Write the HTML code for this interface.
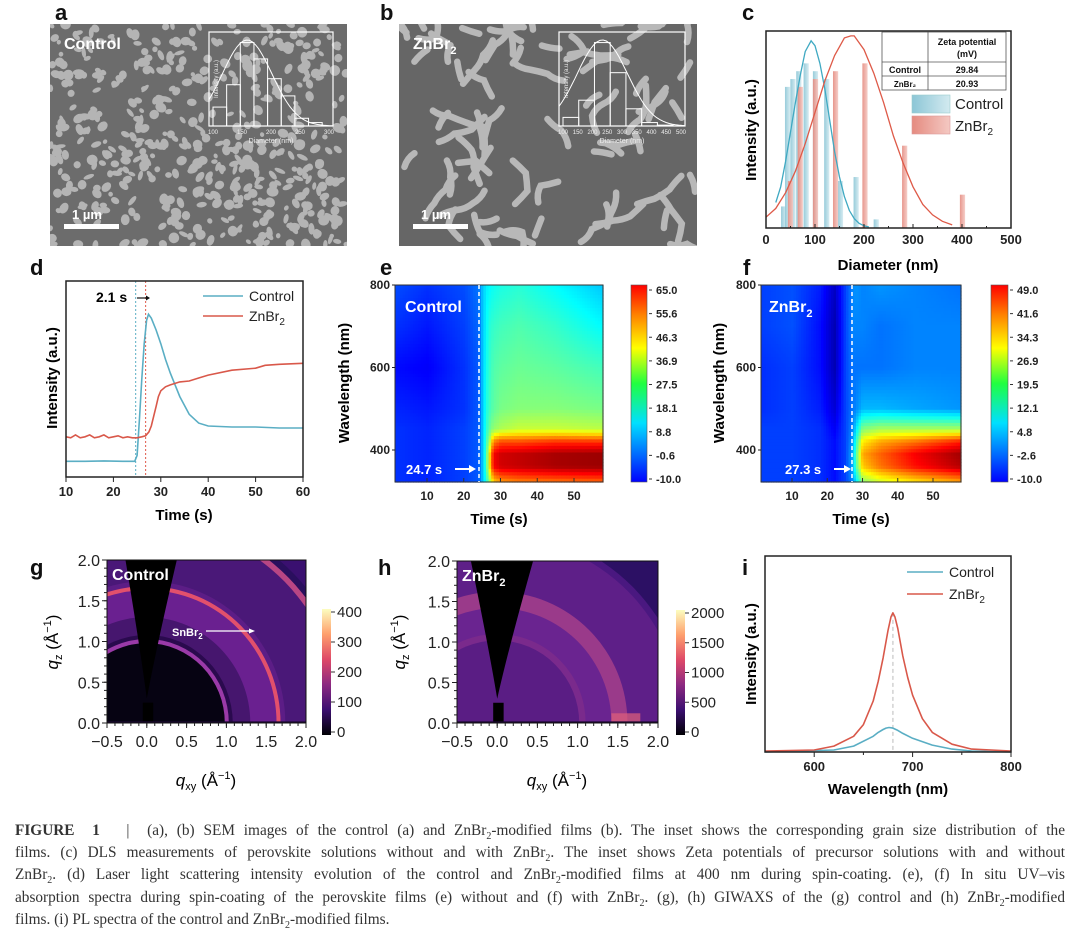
<!DOCTYPE html>
<html><head><meta charset="utf-8">
<style>
html,body{margin:0;padding:0;background:#fff;}
body{width:1080px;height:951px;position:relative;overflow:hidden;font-family:"Liberation Sans",sans-serif;}
#fig{position:absolute;left:0;top:0;}
.cap{position:absolute;left:15px;width:1050px;font-family:"Liberation Serif",serif;font-size:15.3px;color:#333;white-space:nowrap;text-align:justify;text-align-last:justify;line-height:18px;}
.cap.last{text-align-last:left;}
.cap sub{font-size:10px;line-height:0;}
</style></head>
<body>
<svg id="fig" width="1080" height="951" viewBox="0 0 1080 951" xmlns="http://www.w3.org/2000/svg" font-family="Liberation Sans, sans-serif">
<defs>
 <clipPath id="clipA"><rect x="50" y="24" width="297" height="222"/></clipPath>
 <clipPath id="clipB"><rect x="399" y="24" width="298" height="222"/></clipPath>
 <clipPath id="clipG"><rect x="107" y="560" width="199" height="163"/></clipPath>
 <clipPath id="clipH"><rect x="457" y="561" width="201" height="162"/></clipPath>
 <linearGradient id="gCtrl" x1="0" x2="1"><stop offset="0" stop-color="#8cc6d6"/><stop offset="1" stop-color="#d3eaf0"/></linearGradient>
 <linearGradient id="gZn" x1="0" x2="1"><stop offset="0" stop-color="#e58b80"/><stop offset="1" stop-color="#f4c9c3"/></linearGradient>
 <linearGradient id="jetBar" x1="0" y1="1" x2="0" y2="0">
  <stop offset="0" stop-color="#0000ff"/><stop offset="0.125" stop-color="#0060ff"/><stop offset="0.3" stop-color="#00e0ff"/>
  <stop offset="0.5" stop-color="#20ff40"/><stop offset="0.68" stop-color="#ffff00"/><stop offset="0.85" stop-color="#ff8000"/><stop offset="1" stop-color="#ff0000"/>
 </linearGradient>
 <linearGradient id="magma" x1="0" y1="1" x2="0" y2="0">
  <stop offset="0" stop-color="#000004"/><stop offset="0.2" stop-color="#3b0f70"/><stop offset="0.4" stop-color="#8c2981"/>
  <stop offset="0.6" stop-color="#de4968"/><stop offset="0.8" stop-color="#fe9f6d"/><stop offset="1" stop-color="#fcfdbf"/>
 </linearGradient>
 <radialGradient id="beamG" cx="0.5" cy="1" r="0.6"><stop offset="0" stop-color="#f6a060"/><stop offset="0.5" stop-color="#b0306a" stop-opacity="0.6"/><stop offset="1" stop-color="#000" stop-opacity="0"/></radialGradient>
</defs>

<g font-weight="bold" font-size="22" fill="#111">
 <text x="55" y="20">a</text><text x="380" y="20">b</text><text x="742" y="20">c</text>
 <text x="30" y="275">d</text><text x="380" y="275">e</text><text x="743" y="275">f</text>
 <text x="30" y="575">g</text><text x="378" y="575">h</text><text x="742" y="575">i</text>
</g>

<g>
 <rect x="50" y="24" width="297" height="222" fill="#6c6c6c"/>
 <g id="semA" clip-path="url(#clipA)"></g>
 <text x="64" y="49" fill="#fff" font-weight="bold" font-size="16">Control</text>
 <rect x="64" y="224" width="55" height="5" fill="#fff"/>
 <text x="72" y="219" fill="#fff" font-weight="bold" font-size="13">1 µm</text>
 <g id="insetA"></g>
</g>
<g>
 <rect x="399" y="24" width="298" height="222" fill="#666"/>
 <g id="semB" clip-path="url(#clipB)"></g>
 <text x="413" y="49" fill="#fff" font-weight="bold" font-size="16">ZnBr<tspan font-size="11" dy="5">2</tspan></text>
 <rect x="413" y="224" width="55" height="5" fill="#fff"/>
 <text x="421" y="219" fill="#fff" font-weight="bold" font-size="13">1 µm</text>
 <g id="insetB"></g>
</g>

<g id="panelC">
 <g id="cMarks"></g>
 <rect x="766" y="31" width="245" height="197" fill="none" stroke="#222" stroke-width="1.5"/>
 <g id="cAxis" font-weight="bold" font-size="13" fill="#222"></g>
 <text x="888" y="270" text-anchor="middle" font-weight="bold" font-size="15">Diameter (nm)</text>
 <text transform="translate(756,130) rotate(-90)" text-anchor="middle" font-weight="bold" font-size="15">Intensity (a.u.)</text>
 <g font-weight="bold" font-size="9" fill="#111">
  <rect x="882" y="32" width="124" height="58" fill="#fff" stroke="#555" stroke-width="0.8"/>
  <line x1="928" y1="32" x2="928" y2="90" stroke="#555" stroke-width="0.8"/>
  <line x1="882" y1="62" x2="1006" y2="62" stroke="#555" stroke-width="0.8"/>
  <line x1="882" y1="76" x2="1006" y2="76" stroke="#555" stroke-width="0.8"/>
  <text x="967" y="45" text-anchor="middle">Zeta potential</text>
  <text x="967" y="57" text-anchor="middle">(mV)</text>
  <text x="905" y="73" text-anchor="middle">Control</text><text x="967" y="73" text-anchor="middle">29.84</text>
  <text x="905" y="87" text-anchor="middle" font-size="8">ZnBr₂</text><text x="967" y="87" text-anchor="middle">20.93</text>
 </g>
 <g font-size="15" fill="#222">
  <rect x="912" y="95" width="38" height="18" fill="url(#gCtrl)" stroke="#9cc" stroke-width="0.6"/>
  <text x="955" y="109">Control</text>
  <rect x="912" y="116" width="38" height="18" fill="url(#gZn)" stroke="#d99" stroke-width="0.6"/>
  <text x="955" y="131">ZnBr<tspan font-size="10" dy="4">2</tspan></text>
 </g>
</g>

<g id="panelD">
 <g id="dMarks"></g>
 <rect x="66" y="281" width="237" height="196" fill="none" stroke="#222" stroke-width="1.5"/>
 <g id="dAxis" font-weight="bold" font-size="13" fill="#222"></g>
 <text x="184" y="520" text-anchor="middle" font-weight="bold" font-size="15">Time (s)</text>
 <text transform="translate(57,378) rotate(-90)" text-anchor="middle" font-weight="bold" font-size="15">Intensity (a.u.)</text>
 <text x="96" y="302" font-weight="bold" font-size="14">2.1 s</text>
 <line x1="137" y1="298" x2="146" y2="298" stroke="#111" stroke-width="1.2"/><path d="M146,295.5 L150,298 L146,300.5Z" fill="#111"/>
 <g font-size="14" fill="#222">
  <line x1="203" y1="296" x2="243" y2="296" stroke="#5aaec4" stroke-width="1.6"/><text x="249" y="301">Control</text>
  <line x1="203" y1="316" x2="243" y2="316" stroke="#d9584a" stroke-width="1.6"/><text x="249" y="321">ZnBr<tspan font-size="10" dy="4">2</tspan></text>
 </g>
</g>

<g id="panelE">
 <g id="eCells"></g>
 <rect x="395" y="285" width="208" height="197" fill="none" stroke="#333" stroke-width="1"/>
 <line x1="479" y1="285" x2="479" y2="482" stroke="#fff" stroke-width="1.5" stroke-dasharray="4,3"/>
 <text x="405" y="312" fill="#fff" font-weight="bold" font-size="16">Control</text>
 <text x="406" y="474" fill="#fff" font-weight="bold" font-size="13">24.7 s</text>
 <line x1="455" y1="469" x2="470" y2="469" stroke="#fff" stroke-width="2"/><path d="M469,465 L476,469 L469,473Z" fill="#fff"/>
 <g id="eAxis" font-weight="bold" font-size="12" fill="#222"></g>
 <text x="499" y="524" text-anchor="middle" font-weight="bold" font-size="15">Time (s)</text>
 <text transform="translate(349,383) rotate(-90)" text-anchor="middle" font-weight="bold" font-size="15">Wavelength (nm)</text>
 <rect x="631" y="285" width="16" height="197" fill="url(#jetBar)" stroke="#555" stroke-width="0.6"/>
 <g id="eCb" font-weight="bold" font-size="11" fill="#222"></g>
</g>

<g id="panelF">
 <g id="fCells"></g>
 <rect x="761" y="285" width="200" height="197" fill="none" stroke="#333" stroke-width="1"/>
 <line x1="852" y1="285" x2="852" y2="482" stroke="#fff" stroke-width="1.5" stroke-dasharray="4,3"/>
 <text x="769" y="312" fill="#fff" font-weight="bold" font-size="16">ZnBr<tspan font-size="11" dy="5">2</tspan></text>
 <text x="785" y="474" fill="#fff" font-weight="bold" font-size="13">27.3 s</text>
 <line x1="834" y1="469" x2="845" y2="469" stroke="#fff" stroke-width="2"/><path d="M844,465 L851,469 L844,473Z" fill="#fff"/>
 <g id="fAxis" font-weight="bold" font-size="12" fill="#222"></g>
 <text x="861" y="524" text-anchor="middle" font-weight="bold" font-size="15">Time (s)</text>
 <text transform="translate(724,383) rotate(-90)" text-anchor="middle" font-weight="bold" font-size="15">Wavelength (nm)</text>
 <rect x="991" y="285" width="17" height="197" fill="url(#jetBar)" stroke="#555" stroke-width="0.6"/>
 <g id="fCb" font-weight="bold" font-size="11" fill="#222"></g>
</g>

<g id="panelG">
 <g id="gImg" clip-path="url(#clipG)"></g>
 <rect x="107" y="560" width="199" height="163" fill="none" stroke="#111" stroke-width="1"/>
 <text x="112" y="580" fill="#fff" font-weight="bold" font-size="16">Control</text>
 <text x="172" y="636" fill="#fff" font-weight="bold" font-size="11">SnBr<tspan font-size="8" dy="3">2</tspan></text>
 <line x1="206" y1="631" x2="250" y2="631" stroke="#fff" stroke-width="1.2"/><path d="M249,628.5 L255,631 L249,633.5Z" fill="#fff"/>
 <g id="gAxis" font-size="16" fill="#222"></g>
 <text x="206" y="786" text-anchor="middle" font-size="17"><tspan font-style="italic">q</tspan><tspan font-size="11" dy="4">xy</tspan><tspan dy="-4"> (Å</tspan><tspan font-size="11" dy="-7">−1</tspan><tspan dy="7">)</tspan></text>
 <text transform="translate(58,642) rotate(-90)" text-anchor="middle" font-size="17"><tspan font-style="italic">q</tspan><tspan font-size="11" dy="4">z</tspan><tspan dy="-4"> (Å</tspan><tspan font-size="11" dy="-7">−1</tspan><tspan dy="7">)</tspan></text>
 <rect x="322" y="609" width="9" height="126" fill="url(#magma)"/>
 <g id="gCb" font-size="15" fill="#222"></g>
</g>

<g id="panelH">
 <g id="hImg" clip-path="url(#clipH)"></g>
 <rect x="457" y="561" width="201" height="162" fill="none" stroke="#111" stroke-width="1"/>
 <text x="462" y="581" fill="#fff" font-weight="bold" font-size="16">ZnBr<tspan font-size="11" dy="5">2</tspan></text>
 <g id="hAxis" font-size="16" fill="#222"></g>
 <text x="557" y="786" text-anchor="middle" font-size="17"><tspan font-style="italic">q</tspan><tspan font-size="11" dy="4">xy</tspan><tspan dy="-4"> (Å</tspan><tspan font-size="11" dy="-7">−1</tspan><tspan dy="7">)</tspan></text>
 <text transform="translate(405,642) rotate(-90)" text-anchor="middle" font-size="17"><tspan font-style="italic">q</tspan><tspan font-size="11" dy="4">z</tspan><tspan dy="-4"> (Å</tspan><tspan font-size="11" dy="-7">−1</tspan><tspan dy="7">)</tspan></text>
 <rect x="676" y="610" width="9" height="125" fill="url(#magma)"/>
 <g id="hCb" font-size="15" fill="#222"></g>
</g>

<g id="panelI">
 <g id="iMarks"></g>
 <rect x="765" y="556" width="246" height="196" fill="none" stroke="#222" stroke-width="1.5"/>
 <g id="iAxis" font-weight="bold" font-size="13" fill="#222"></g>
 <text x="888" y="794" text-anchor="middle" font-weight="bold" font-size="15">Wavelength (nm)</text>
 <text transform="translate(756,654) rotate(-90)" text-anchor="middle" font-weight="bold" font-size="15">Intensity (a.u.)</text>
 <g font-size="14" fill="#222">
  <line x1="907" y1="572" x2="943" y2="572" stroke="#5aaec4" stroke-width="1.6"/><text x="949" y="577">Control</text>
  <line x1="907" y1="594" x2="943" y2="594" stroke="#d9584a" stroke-width="1.6"/><text x="949" y="599">ZnBr<tspan font-size="10" dy="4">2</tspan></text>
 </g>
</g>
</svg>

<div class="cap" style="top:822px"><b style="font-family:'Liberation Serif',serif">FIGURE&nbsp;&nbsp;1</b>&nbsp;&nbsp;&nbsp;|&nbsp;&nbsp;(a), (b) SEM images of the control (a) and ZnBr<sub>2</sub>-modified films (b). The inset shows the corresponding grain size distribution of the</div>
<div class="cap" style="top:844px">films. (c) DLS measurements of perovskite solutions without and with ZnBr<sub>2</sub>. The inset shows Zeta potentials of precursor solutions with and without</div>
<div class="cap" style="top:866px">ZnBr<sub>2</sub>. (d) Laser light scattering intensity evolution of the control and ZnBr<sub>2</sub>-modified films at 400 nm during spin-coating. (e), (f) In situ UV–vis</div>
<div class="cap" style="top:889px">absorption spectra during spin-coating of the perovskite films (e) without and (f) with ZnBr<sub>2</sub>. (g), (h) GIWAXS of the (g) control and (h) ZnBr<sub>2</sub>-modified</div>
<div class="cap last" style="top:911px">films. (i) PL spectra of the control and ZnBr<sub>2</sub>-modified films.</div>

<script>
// ---------- data ----------
const cCtrlX=[36,44,55,67,82,101,124,152,184,225];
const cCtrlH=[0.11,0.72,0.76,0.80,0.84,0.80,0.76,0.24,0.26,0.044];
const cZnX=[50,70,101,142,202,283,401];
const cZnH=[0.24,0.72,0.76,0.80,0.84,0.42,0.17];
const cFitCtrlX=[20,30,40,50,60,70,80,92,100,110,120,130,140,150,160,170,180,190,200,210];
const cFitCtrlY=[0.13,0.21,0.34,0.49,0.64,0.78,0.90,0.955,0.93,0.84,0.71,0.55,0.39,0.26,0.16,0.09,0.048,0.024,0.011,0.005];
const cFitZnX=[0,20,40,60,80,100,120,140,160,173,180,200,220,240,260,280,300,320,340,360,380];
const cFitZnY=[0.055,0.10,0.18,0.29,0.43,0.59,0.75,0.88,0.97,0.98,0.98,0.91,0.79,0.64,0.47,0.33,0.21,0.12,0.067,0.034,0.016];
const cXTicks=[0,100,200,300,400,500];

const dCtrlT=[10,14,18,22,24.5,25,25.5,26,26.5,27,27.4,28,29,30,31,32,34,36,38,40,45,50,55,60];
const dCtrlV=[0.08,0.08,0.082,0.08,0.08,0.11,0.30,0.50,0.68,0.80,0.83,0.81,0.75,0.68,0.60,0.53,0.41,0.32,0.275,0.26,0.255,0.255,0.25,0.25];
const dZnT=[10,11,12,13,14,15,16,17,18,19,20,21,22,23,24,25,26,26.8,27.5,28,28.5,29,29.5,30,31,32,34,36,38,40,45,50,52,55,60];
const dZnV=[0.205,0.20,0.215,0.20,0.205,0.215,0.20,0.205,0.215,0.20,0.205,0.21,0.20,0.205,0.20,0.20,0.205,0.21,0.23,0.26,0.31,0.36,0.41,0.44,0.46,0.47,0.485,0.49,0.505,0.52,0.545,0.555,0.57,0.575,0.58];
const dXTicks=[10,20,30,40,50,60];

const eTimes=[1,10,20,24,25,26,27,28,30,35,45,58];
const eWaves=[800,700,600,500,450,420,390,360,322];
const eVals=[
 [5,3,5,8,14,17,18,19,20,21,18,14],
 [3,1,4,7,14,18,21,22,23,24,22,18],
 [0,-1,3,6,14,19,22,24,25,26,25,23],
 [2,1,3,6,14,20,23,25,27,28,28,27],
 [3,2,4,6,14,21,26,29,31,33,33,32],
 [3,2,4,6,14,22,32,46,50,50,52,52],
 [3,2,4,6,14,23,40,56,59,60,62,63],
 [3,2,4,6,14,23,40,56,59,60,62,63],
 [3,2,4,6,14,20,30,40,44,46,47,48]];
const eCbTicks=["65.0","55.6","46.3","36.9","27.5","18.1","8.8","-0.6","-10.0"];

const fTimes=[1,10,18,22,25,27,28,30,35,45,58];
const fWaves=[800,700,600,500,450,420,390,360,322];
const fVals=[
 [1,2,-1,-6,1,5,6,5,6,5,4],
 [1,2,-2,-7,1,5,5,5,4,5,5],
 [0,1,-2,-7,1,4,4,4,4,5,5],
 [0,1,-1,-5,1,4,5,8,8,7,6],
 [1,1,0,-3,1,5,10,20,22,22,22],
 [1,1,0,-2,1,6,14,28,32,35,40],
 [1,1,0,-2,1,7,16,32,36,42,47],
 [1,1,0,-2,1,7,16,30,35,41,46],
 [1,1,0,-2,1,5,10,20,24,28,32]];
const fCbTicks=["49.0","41.6","34.3","26.9","19.5","12.1","4.8","-2.6","-10.0"];

const qTicks=["−0.5","0.0","0.5","1.0","1.5","2.0"];
const qTickVals=[-0.5,0,0.5,1,1.5,2];
const qzTickVals=[0,0.5,1,1.5,2];
const gCbTicks=["400","300","200","100","0"];
const hCbTicks=["2000","1500","1000","500","0"];
const gRingR=[2.6,2.52,2.45,1.74,1.68,1.63,1.30,1.08,1.03,0.98];
const gRingC=["#2a0f5e","#b84684","#4a1878","#5c1d86","#e2506c","#6a2090","#46166e","#2a0a4e","#9a3aa8","#060312"];
const hRingR=[2.7,2.38,2.3,1.62,1.42,1.1,1.02];
const hRingC=["#2c1064","#4a1880","#5e1f88","#9a3a8a","#6a2490","#7a2a8c","#5a1d84"];

const iWl=[550,600,620,640,650,660,665,670,675,678,680,682,685,690,695,700,710,720,740,760,800];
const iZn=[0.005,0.01,0.03,0.08,0.14,0.26,0.36,0.48,0.62,0.69,0.71,0.69,0.63,0.49,0.38,0.29,0.17,0.10,0.04,0.015,0.005];
const iCtrlWl=[550,620,640,660,665,670,673,676,680,685,690,700,720,740,760,800];
const iCtrl=[0.0,0.01,0.03,0.08,0.10,0.115,0.122,0.125,0.122,0.11,0.095,0.07,0.035,0.015,0.005,0.0];
const iXTicks=[600,700,800];

const insetABins=[100,125,150,175,200,225,250,275];
const insetAH=[0.22,0.48,0.97,0.78,0.55,0.35,0.09,0.04];
const insetBBins=[100,150,200,250,300,350,400];
const insetBH=[0.1,0.3,0.97,0.62,0.2,0.04,0.01];

// ---------- helpers ----------
const NS='http://www.w3.org/2000/svg';
function mk(tag,attrs,parent){const e=document.createElementNS(NS,tag);for(const k in attrs)e.setAttribute(k,attrs[k]);parent.appendChild(e);return e;}
function lin(d0,d1,r0,r1){return v=>r0+(v-d0)/(d1-d0)*(r1-r0);}
const $=id=>document.getElementById(id);
function jet(t){t=Math.max(0,Math.min(1,t));const c=x=>Math.round(255*Math.max(0,Math.min(1,x)));
 return `rgb(${c(1.5-Math.abs(4*t-3))},${c(1.5-Math.abs(4*t-2))},${c(1.5-Math.abs(4*t-1))})`;}
function pathFrom(xs,ys,sx,sy){return xs.map((x,i)=>(i?'L':'M')+sx(x).toFixed(1)+','+sy(ys[i]).toFixed(1)).join(' ');}

// ---------- SEM textures (decorative) ----------
let seed=7;function rnd(){seed=(seed*16807)%2147483647;return seed/2147483647;}
(function(){
 const g=$('semA');
 for(let i=0;i<520;i++){const x=50+rnd()*297,y=24+rnd()*222;
  const el=mk('ellipse',{cx:x,cy:y,rx:2+rnd()*4,ry:2+rnd()*3.5,fill:'#b4b4b4',transform:`rotate(${rnd()*180},${x},${y})`},g);
  
  }
 const gb=$('semB');
 for(let i=0;i<72;i++){let x=399+rnd()*298,y=24+rnd()*222,a=rnd()*6.28;let d='M'+x+','+y;
  const n=1+Math.floor(rnd()*3);
  for(let k=0;k<n;k++){a+=(rnd()-0.5)*2;const cx=x+Math.cos(a)*9,cy=y+Math.sin(a)*9;a+=(rnd()-0.5)*1.5;x=cx+Math.cos(a)*9;y=cy+Math.sin(a)*9;d+=` Q${cx},${cy} ${x},${y}`;}
  const p=mk('path',{d:d,fill:'none',stroke:'#b8b8b8','stroke-width':6.5,'stroke-linecap':'round'},gb);
  
  }
})();
function inset(gid,x0,y0,w,h,bins,hs,step,labels){
 const g=$(gid);
 mk('rect',{x:x0,y:y0,width:w,height:h,fill:'none',stroke:'#fff','stroke-width':1.2},g);
 const n=bins.length, bw=(w-8)/(n+0.5);
 bins.forEach((b,i)=>{const r=mk('rect',{x:x0+4+i*bw,y:y0+h-hs[i]*(h-8),width:bw,height:hs[i]*(h-8),fill:'none',stroke:'#fff','stroke-width':1},g);
  
  });
 const pk=hs.indexOf(Math.max(...hs));let d='';
 for(let k=0;k<=40;k++){const xx=x0+k*w/40;const c=x0+4+(pk+0.5)*bw;const s=w*0.2;const yy=y0+h-(h-8)*Math.exp(-((xx-c)**2)/(2*s*s));d+=(k?'L':'M')+xx.toFixed(1)+','+yy.toFixed(1);}
 mk('path',{d:d,fill:'none',stroke:'#fff','stroke-width':1},g);
 labels.forEach((l,i)=>{const t=mk('text',{x:x0+4+i*(w-8)/(labels.length-1),y:y0+h+8,'font-size':6,fill:'#eee','text-anchor':'middle'},g);t.textContent=l;});
 const t=mk('text',{x:x0+w/2,y:y0+h+17,'font-size':7,fill:'#eee','text-anchor':'middle'},g);t.textContent='Diameter (nm)';
 const t2=mk('text',{transform:`translate(${x0+9},${y0+h/2}) rotate(-90)`,'font-size':6,fill:'#eee','text-anchor':'middle'},g);t2.textContent='Intensity (a.u.)';
}
inset('insetA',209,32,124,94,insetABins,insetAH,25,['100','150','200','250','300']);
inset('insetB',559,32,126,94,insetBBins,insetBH,50,['100','150','200','250','300','350','400','450','500']);

// ---------- panel c ----------
(function(){
 const sx=lin(0,500,766,1011), sy=lin(0,1,228,32), g=$('cMarks');
 cCtrlX.forEach((v,i)=>{const r=mk('rect',{x:sx(v)-2.6,y:sy(cCtrlH[i]),width:5.2,height:228-sy(cCtrlH[i]),fill:'url(#gCtrl)',opacity:0.9},g);
  
  });
 cZnX.forEach((v,i)=>{const r=mk('rect',{x:sx(v)-2.6,y:sy(cZnH[i]),width:5.2,height:228-sy(cZnH[i]),fill:'url(#gZn)',opacity:0.9},g);
  
  });
 const p1=mk('path',{d:pathFrom(cFitCtrlX,cFitCtrlY,sx,sy),fill:'none',stroke:'#3fa9c2','stroke-width':1.3},g);
 
 
 const p2=mk('path',{d:pathFrom(cFitZnX,cFitZnY,sx,sy),fill:'none',stroke:'#de5a48','stroke-width':1.3},g);
 
 
 const a=$('cAxis');
 cXTicks.forEach(v=>{mk('line',{x1:sx(v),x2:sx(v),y1:228,y2:224,stroke:'#222'},a);
  const t=mk('text',{x:sx(v),y:244,'text-anchor':'middle'},a);t.textContent=v;
  
  
  if(v<500)mk('line',{x1:sx(v+50),x2:sx(v+50),y1:228,y2:226,stroke:'#222'},a);});
})();

// ---------- panel d ----------
(function(){
 const sx=lin(10,60,66,303), sy=lin(0,1,477,281), g=$('dMarks');
 mk('line',{x1:sx(24.7),x2:sx(24.7),y1:281,y2:477,stroke:'#5aaec4','stroke-width':1,'stroke-dasharray':'2,2'},g);
 mk('line',{x1:sx(26.8),x2:sx(26.8),y1:281,y2:477,stroke:'#e0584a','stroke-width':1,'stroke-dasharray':'2,2'},g);
 const p1=mk('path',{d:pathFrom(dCtrlT,dCtrlV,sx,sy),fill:'none',stroke:'#5aaec4','stroke-width':1.6},g);
 
 
 const p2=mk('path',{d:pathFrom(dZnT,dZnV,sx,sy),fill:'none',stroke:'#d9584a','stroke-width':1.6},g);
 
 
 const a=$('dAxis');
 dXTicks.forEach(v=>{mk('line',{x1:sx(v),x2:sx(v),y1:477,y2:482,stroke:'#222'},a);
  const t=mk('text',{x:sx(v),y:496,'text-anchor':'middle'},a);t.textContent=v;
  
  });
})();

// ---------- heatmaps ----------
function heat(gid,times,waves,vals,x0,x1,vmin,vmax){
 const g=$(gid);
 const wl=[...waves].reverse(), vv=[...vals].reverse();
 function interp(t,w){
  let i=0;while(i<times.length-2&&t>times[i+1])i++;
  let j=0;while(j<wl.length-2&&w>wl[j+1])j++;
  const ft=Math.max(0,Math.min(1,(t-times[i])/(times[i+1]-times[i])));
  const fw=Math.max(0,Math.min(1,(w-wl[j])/(wl[j+1]-wl[j])));
  const a=vv[j][i]*(1-ft)+vv[j][i+1]*ft, b=vv[j+1][i]*(1-ft)+vv[j+1][i+1]*ft;
  return a*(1-fw)+b*fw;}
 const nx=80, ny=60, cw=(x1-x0)/nx, ch=(482-285)/ny;
 for(let a=0;a<nx;a++)for(let b=0;b<ny;b++){
  const px=x0+a*cw, py=285+b*ch;
  const t=times[0]+(px+cw/2-x0)/(x1-x0)*(times[times.length-1]-times[0]);
  const w=800-(py+ch/2-285)/165*400;
  const v=interp(t,w);
  const r=mk('rect',{x:px.toFixed(2),y:py.toFixed(2),width:(cw+0.6).toFixed(2),height:(ch+0.6).toFixed(2),fill:jet((v-vmin)/(vmax-vmin))},g);
  
  }
}
heat('eCells',eTimes,eWaves,eVals,395,603,-10,65);
heat('fCells',fTimes,fWaves,fVals,761,961,-10,49);

function heatAxes(aid,tx){
 const a=$(aid); const sy=lin(800,400,285,450);
 [400,600,800].forEach(v=>{const t=mk('text',{x:tx.left-5,y:sy(v)+4,'text-anchor':'end'},a);t.textContent=v;
  
  
  mk('line',{x1:tx.left-3,x2:tx.left,y1:sy(v),y2:sy(v),stroke:'#222'},a);});
 [10,20,30,40,50].forEach(v=>{const x=tx.sx(v);const t=mk('text',{x:x,y:500,'text-anchor':'middle'},a);t.textContent=v;
  
  
  mk('line',{x1:x,x2:x,y1:482,y2:478,stroke:'#333'},a);});
}
heatAxes('eAxis',{left:395,sx:lin(10,50,427,574)});
heatAxes('fAxis',{left:761,sx:lin(10,50,792,933)});
function cbTicks(gid,ticks,x,y0,y1){const g=$(gid);ticks.forEach((s,i)=>{const y=y0+i*(y1-y0)/(ticks.length-1);
 mk('line',{x1:x-7,x2:x-4,y1:y,y2:y,stroke:'#333'},g);
 const t=mk('text',{x:x,y:y+4},g);t.textContent=s;
 
 });}
cbTicks('eCb',eCbTicks,656,290,479);
cbTicks('fCb',fCbTicks,1017,290,479);

// ---------- GIWAXS ----------
function giwaxs(gid,aid,x0,x1,y0,y1,radii,cols,bg,wedge,isH){
 const sx=lin(-0.5,2,x0,x1), sy=lin(0,2,y1,y0), g=$(gid);
 const kx=(x1-x0)/2.5, ky=(y1-y0)/2;
 mk('rect',{x:x0,y:y0,width:x1-x0,height:y1-y0,fill:bg},g);
 radii.forEach((r,i)=>{const e=mk('ellipse',{cx:sx(0),cy:sy(0),rx:r*kx,ry:r*ky,fill:cols[i]},g);
  
  });
 mk('ellipse',{cx:sx(0),cy:sy(0),rx:isH?130:45,ry:isH?16:22,fill:'url(#beamG)',opacity:isH?0.9:1},g);
 if(isH){mk('rect',{x:sx(1.42),y:sy(0.12),width:sx(1.78)-sx(1.42),height:sy(0)-sy(0.12),fill:'#e0607a',opacity:0.7},g);}
 const wd=`M${sx(wedge[0])},${y0-1} Q${sx(wedge[0]*0.3)},${sy(0.9)} ${sx(0)},${sy(0.3)} Q${sx(wedge[1]*0.3)},${sy(0.9)} ${sx(wedge[1])},${y0-1}Z`;
 mk('path',{d:wd,fill:'#000'},g);
 mk('rect',{x:sx(-0.05),y:sy(0.25),width:sx(0.08)-sx(-0.05),height:sy(0)-sy(0.25),fill:'#000'},g);
 mk('rect',{x:x0,y:sy(0.02),width:x1-x0,height:sy(0)-sy(0.02)+1,fill:'#1a0830'},g);
 const a=$(aid);
 qTickVals.forEach((v,i)=>{mk('line',{x1:sx(v),x2:sx(v),y1:y1,y2:y1+5,stroke:'#222'},a);
  const t=mk('text',{x:sx(v),y:y1+24,'text-anchor':'middle'},a);t.textContent=qTicks[i];
  
  });
 for(let v=-0.4;v<2;v+=0.1){mk('line',{x1:sx(v),x2:sx(v),y1:y1,y2:y1+3,stroke:'#222'},a);}
 qzTickVals.forEach(v=>{mk('line',{x1:x0-5,x2:x0,y1:sy(v),y2:sy(v),stroke:'#222'},a);
  const t=mk('text',{x:x0-7,y:sy(v)+6,'text-anchor':'end'},a);t.textContent=v.toFixed(1);
  
  });
 for(let v=0.1;v<2;v+=0.1){mk('line',{x1:x0-3,x2:x0,y1:sy(v),y2:sy(v),stroke:'#222'},a);}
}
giwaxs('gImg','gAxis',107,306,560,723,gRingR,gRingC,'#3a1070',[-0.27,0.38],false);
giwaxs('hImg','hAxis',457,658,561,723,hRingR,hRingC,'#2c1064',[-0.33,0.45],true);
function cbMag(gid,ticks,x,y0,y1){const g=$(gid);ticks.forEach((s,i)=>{const y=y0+i*(y1-y0)/(ticks.length-1);
 mk('line',{x1:x-5,x2:x-1,y1:y,y2:y,stroke:'#333'},g);
 const t=mk('text',{x:x+1,y:y+5},g);t.textContent=s;
 
 });}
cbMag('gCb',gCbTicks,336,612,732);
cbMag('hCb',hCbTicks,690,613,732);

// ---------- panel i ----------
(function(){
 const sx=lin(550,800,765,1011), sy=lin(0,1,752,556), g=$('iMarks');
 mk('line',{x1:sx(680),x2:sx(680),y1:sy(0.71),y2:752,stroke:'#bbb','stroke-width':1,'stroke-dasharray':'4,3'},g);
 const p1=mk('path',{d:pathFrom(iCtrlWl,iCtrl,sx,sy),fill:'none',stroke:'#5aaec4','stroke-width':1.6,'stroke-linejoin':'round'},g);
 
 
 const p2=mk('path',{d:pathFrom(iWl,iZn,sx,sy),fill:'none',stroke:'#d9584a','stroke-width':1.6,'stroke-linejoin':'round'},g);
 
 
 const a=$('iAxis');
 iXTicks.forEach(v=>{mk('line',{x1:sx(v),x2:sx(v),y1:752,y2:757,stroke:'#222'},a);
  const t=mk('text',{x:sx(v),y:771,'text-anchor':'middle'},a);t.textContent=v;
  
  });
 [650,750].forEach(v=>mk('line',{x1:sx(v),x2:sx(v),y1:752,y2:755,stroke:'#222'},a));
})();
</script>
</body></html>
